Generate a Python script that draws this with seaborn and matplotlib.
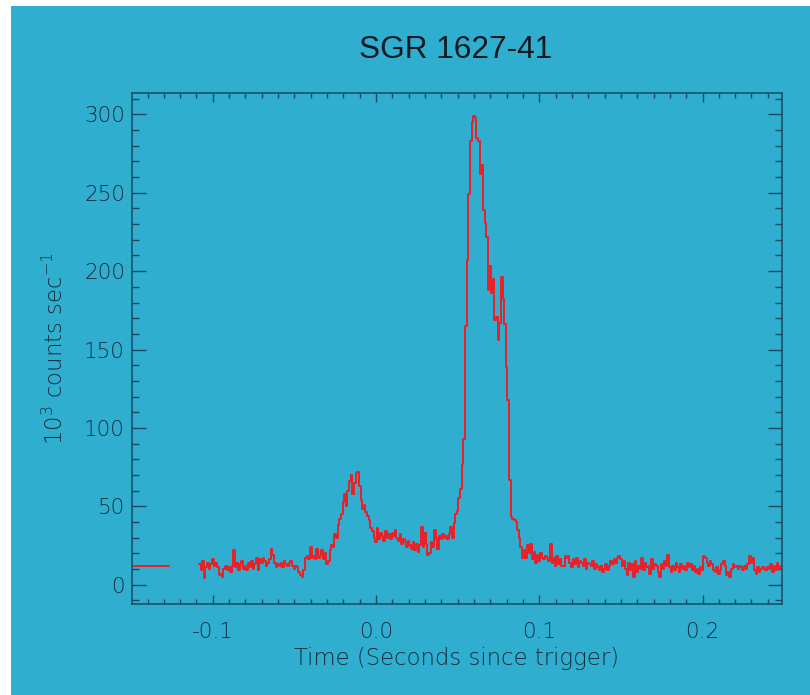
import numpy as np
import pandas as pd
import matplotlib
matplotlib.use("Agg")
import matplotlib.pyplot as plt
from matplotlib.patches import Rectangle
from matplotlib.ticker import MultipleLocator, FormatStrFormatter
import seaborn as sns

# ---------------- data ----------------
title = "SGR 1627-41"
x_label = "Time (Seconds since trigger)"
y_label = "10$^{3}$ counts sec$^{-1}$"

bin_start = -0.1085      # first bin start (s)
bin_width = 0.001        # bin width (s)

counts = [
    13, 9, 15, 4, 11, 14, 10, 13, 16, 12,
    14, 11, 6, 7, 5, 10, 12, 9, 11, 8,
    12, 22, 11, 14, 9, 13, 15, 10, 12, 9,
    14, 11, 15, 10, 13, 17, 9, 16, 14, 17,
    15, 12, 14, 16, 23, 19, 14, 11, 13, 12,
    14, 11, 15, 13, 12, 14, 15, 12, 10, 12,
    11, 8, 6, 5, 9, 17, 18, 16, 24, 17,
    18, 16, 23, 17, 19, 22, 16, 20, 13, 15,
    22, 25, 24, 32, 30, 38, 42, 45, 53, 58,
    50, 60, 66, 70, 58, 65, 71, 72, 63, 54,
    48, 51, 46, 44, 41, 36, 34, 30, 27, 36,
    29, 33, 31, 28, 34, 30, 32, 29, 33, 31,
    35, 30, 28, 32, 26, 29, 27, 24, 28, 25,
    23, 27, 22, 26, 21, 25, 37, 24, 33, 26,
    19, 20, 27, 24, 35, 29, 23, 31, 29, 32,
    30, 31, 29, 32, 37, 30, 39, 45, 47, 55,
    61, 77, 93, 165, 207, 249, 283, 295, 299, 298,
    285, 283, 262, 268, 239, 231, 222, 188, 203, 186,
    195, 169, 171, 156, 167, 196, 182, 166, 139, 118,
    67, 43, 42, 41, 40, 35, 30, 24, 17, 22,
    17, 25, 20, 26, 16, 21, 14, 19, 15, 20,
    17, 16, 18, 17, 15, 26, 14, 17, 12, 18,
    13, 16, 12, 12, 18, 17, 18, 14, 11, 16,
    13, 17, 11, 15, 14, 12, 16, 10, 14, 13,
    12, 15, 10, 13, 11, 9, 12, 8, 10, 13,
    9, 12, 15, 13, 16, 14, 17, 18, 16, 12,
    15, 10, 6, 14, 9, 13, 5, 15, 8, 12,
    10, 17, 9, 14, 11, 12, 7, 16, 10, 13,
    12, 8, 5, 13, 10, 15, 12, 19, 11, 8,
    12, 9, 14, 11, 8, 13, 10, 12, 9, 14,
    11, 13, 9, 12, 8, 10, 7, 11, 9, 18,
    17, 14, 12, 15, 13, 9, 8, 11, 7, 9,
    13, 15, 12, 6, 8, 5, 10, 13, 11, 12,
    10, 12, 11, 9, 12, 10, 13, 18, 14, 17,
    9, 7, 11, 8, 10, 11, 10, 9, 11, 10,
    13, 8, 12, 9, 14, 10, 12,
]

# pre-burst background level segment
bg_time = [-0.150, -0.127]
bg_level = [12, 12]

x_ticks = [-0.1, 0.0, 0.1, 0.2]
y_ticks = [0, 50, 100, 150, 200, 250, 300]

# ---------------- build ----------------
n = len(counts)
edges = bin_start + bin_width * np.arange(n + 1)
df = pd.DataFrame({"t": edges, "c": list(counts) + [counts[-1]]})
bg = pd.DataFrame({"t": bg_time, "c": bg_level})

BLUE = "#30aed0"
AX = "#1b4a60"
TXT = "#132f3d"
RED = "#ec2027"

sns.set_style("ticks")
plt.rcParams["font.family"] = ["DejaVu Sans"]
plt.rcParams["font.weight"] = "light"
plt.rcParams["axes.labelweight"] = "light"

fig = plt.figure(figsize=(8.10, 6.95), dpi=100)
fig.patch.set_facecolor("white")
fig.add_artist(Rectangle((11 / 810, 0), 1 - 11 / 810, 1 - 6 / 695,
                         transform=fig.transFigure, facecolor=BLUE,
                         edgecolor="none", zorder=-10))

ax = fig.add_axes([132 / 810, 1 - 604 / 695, 650 / 810, 511 / 695])
ax.set_facecolor(BLUE)

sns.lineplot(data=df, x="t", y="c", drawstyle="steps-post", color=RED,
             linewidth=1.4, estimator=None, sort=False, ax=ax)
sns.lineplot(data=bg, x="t", y="c", color=RED, linewidth=1.4,
             estimator=None, sort=False, ax=ax)

ax.set_xlim(-0.1495, 0.2487)
ax.set_ylim(-12.4, 313.7)
ax.set_xticks(x_ticks)
ax.set_yticks(y_ticks)
ax.xaxis.set_major_formatter(FormatStrFormatter("%.1f"))
ax.xaxis.set_minor_locator(MultipleLocator(0.01))
ax.yaxis.set_minor_locator(MultipleLocator(10))

for s in ax.spines.values():
    s.set_color(AX)
    s.set_linewidth(1.1)
    s.set_visible(True)

ax.tick_params(axis="both", which="both", direction="in", top=True,
               right=True, color=AX, width=1.0, labelcolor=TXT,
               labelsize=15.5)
ax.tick_params(axis="x", which="major", length=6.5, pad=13)
ax.tick_params(axis="x", which="minor", length=3.4)
ax.tick_params(axis="y", which="major", length=9.9, pad=5)
ax.tick_params(axis="y", which="minor", length=5)

ax.set_xlabel(x_label, fontsize=16.4, color=TXT, va="center", ha="center",
              fontweight="light")
ax.set_ylabel(y_label, fontsize=16.4, color=TXT, va="center", ha="center",
              fontweight="light")
ax.xaxis.set_label_coords((456 - 132) / 650, (604 - 658) / 511)
ax.yaxis.set_label_coords((55 - 132) / 650, (604 - 349) / 511)

fig.text(456 / 810, 1 - 50 / 695, title, fontsize=22.7, color="#0e1a20",
         ha="center", va="center", weight="normal",
         family=["Liberation Sans", "DejaVu Sans"])

fig.savefig("out.png", dpi=100, facecolor=fig.get_facecolor())
